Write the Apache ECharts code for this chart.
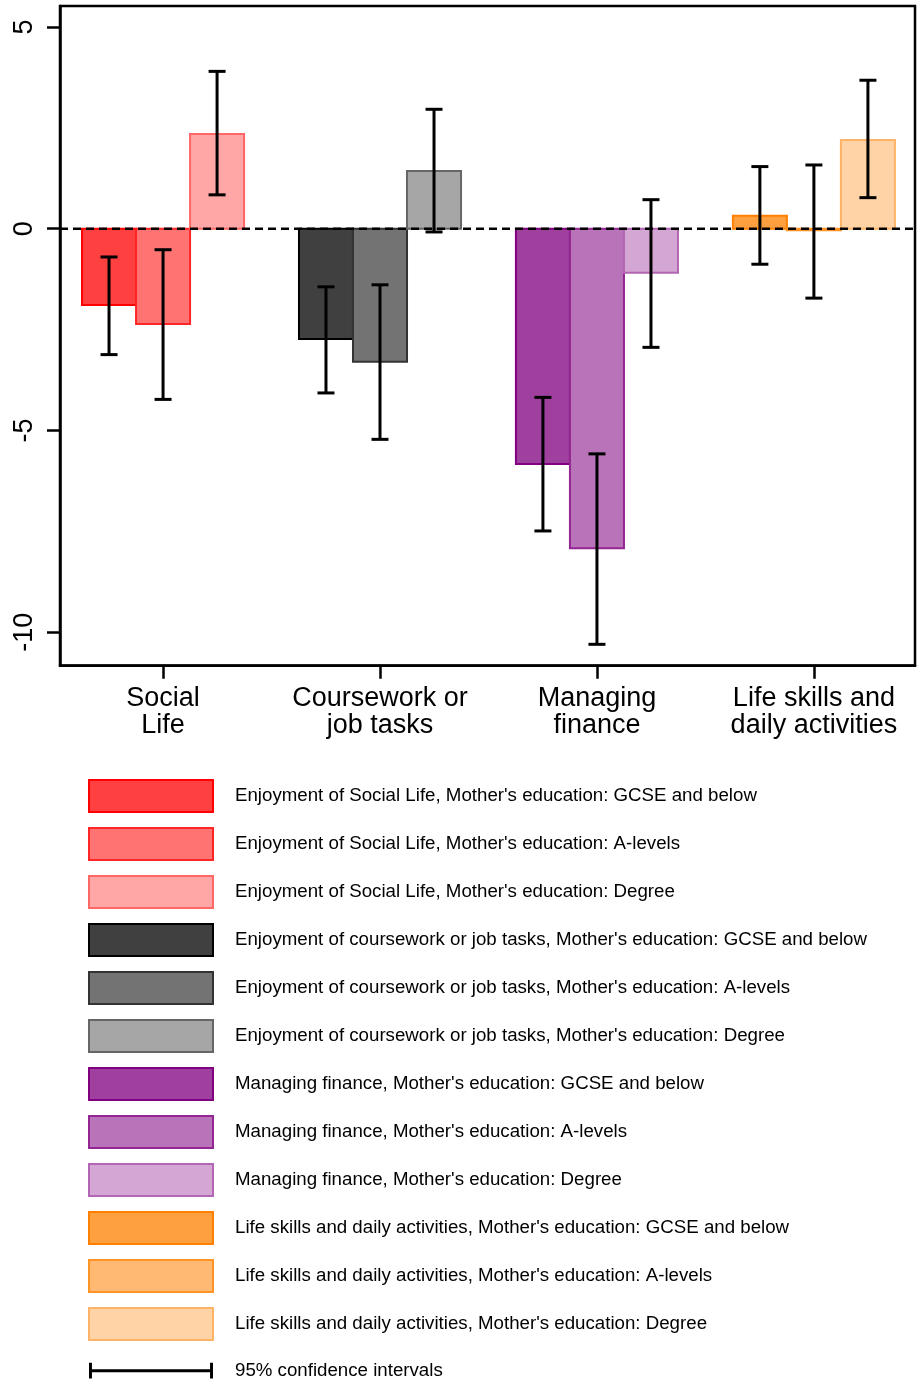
<!DOCTYPE html>
<html>
<head>
<meta charset="utf-8">
<script src="https://cdn.jsdelivr.net/npm/echarts@6/dist/echarts.min.js"></script>
<style>
  html, body { margin: 0; padding: 0; background: #fff; }
  #chart { width: 917px; height: 1386px; }
</style>
</head>
<body>
<div id="chart"></div>
<script>
// ---------- data ----------
const categories = ['Social\nLife', 'Coursework or\njob tasks', 'Managing\nfinance', 'Life skills and\ndaily activities'];
const domainNames = ['Enjoyment of Social Life', 'Enjoyment of coursework or job tasks', 'Managing finance', 'Life skills and daily activities'];
const educationLevels = ['GCSE and below', 'A-levels', 'Degree'];

// estimates by education level (GCSE and below, A-levels, Degree)
const socialLife = [-1.89, -2.36, 2.35];
const coursework = [-2.73, -3.30, 1.43];
const finance    = [-5.83, -7.92, -1.09];
const lifeSkills = [0.32, -0.04, 2.20];

// 95% confidence intervals [low, high]
const socialLifeCI = [[-3.12, -0.70], [-4.23, -0.52], [0.84, 3.90]];
const courseworkCI = [[-4.07, -1.44], [-5.22, -1.39], [-0.08, 2.96]];
const financeCI    = [[-7.49, -4.18], [-10.30, -5.58], [-2.94, 0.72]];
const lifeSkillsCI = [[-0.88, 1.54], [-1.72, 1.58], [0.77, 3.68]];

const yTicks = [-10, -5, 0, 5];
const xTicks = [1, 2, 3, 4];
const referenceValue = 0;
const ciLabel = '95% confidence intervals';

// ---------- styles ----------
const fills = [
  ['#FF4040', '#FF7373', '#FFA6A6'],
  ['#404040', '#737373', '#A6A6A6'],
  ['#9F409F', '#B973B9', '#D3A6D3'],
  ['#FFA040', '#FFB973', '#FFD3A6']
];
const borders = [
  ['#FF0000', '#FF2626', '#FF6666'],
  ['#000000', '#333333', '#666666'],
  ['#800080', '#932693', '#B366B3'],
  ['#FF8000', '#FF9326', '#FFB366']
];
const FONT = 'Liberation Sans, Arial, Helvetica, sans-serif';
const BAR_W = 0.249; // in x-axis units (one category = 1)

const estimates = [socialLife, coursework, finance, lifeSkills];
const cis = [socialLifeCI, courseworkCI, financeCI, lifeSkillsCI];

const series = [];
const legendData = [];
estimates.forEach((vals, d) => {
  vals.forEach((v, l) => {
    const name = domainNames[d] + ", Mother's education: " + educationLevels[l];
    const itemStyle = { color: fills[d][l], borderColor: borders[d][l], borderWidth: 2 };
    series.push({
      type: 'custom',
      name: name,
      z: 2,
      itemStyle: itemStyle,
      data: [[d + 1, v, l]],
      renderItem: function (params, api) {
        const x = api.value(0) + (api.value(2) - 1) * BAR_W;
        const p0 = api.coord([x, 0]);
        const p1 = api.coord([x, api.value(1)]);
        const w = api.size([BAR_W, 0])[0];
        return {
          type: 'rect',
          shape: { x: p0[0] - w / 2, y: Math.min(p0[1], p1[1]), width: w, height: Math.abs(p1[1] - p0[1]) },
          style: api.style()
        };
      }
    });
    legendData.push({ name: name, icon: 'rect', itemStyle: itemStyle });
  });
});

// zero reference line (dashed, spanning the plot)
series.push({
  type: 'custom',
  name: 'reference',
  z: 3,
  silent: true,
  data: [[1, referenceValue]],
  renderItem: function (params, api) {
    const cs = params.coordSys;
    const y = api.coord([1, api.value(1)])[1];
    return {
      type: 'line',
      shape: { x1: cs.x, y1: y, x2: cs.x + cs.width, y2: y },
      style: { stroke: '#000', lineWidth: 2.5, lineDash: [8, 5] }
    };
  }
});

// error bars
const ciData = [];
cis.forEach((arr, d) => arr.forEach((c, l) => ciData.push([d + 1, l, c[0], c[1]])));
series.push({
  type: 'custom',
  name: ciLabel,
  z: 5,
  itemStyle: { color: '#000' },
  data: ciData,
  renderItem: function (params, api) {
    const x = api.value(0) + (api.value(1) - 1) * BAR_W;
    const lo = api.coord([x, api.value(2)]);
    const hi = api.coord([x, api.value(3)]);
    const cap = 8.5;
    const ls = { stroke: '#000', lineWidth: 3 };
    return {
      type: 'group',
      children: [
        { type: 'line', shape: { x1: lo[0], y1: lo[1], x2: hi[0], y2: hi[1] }, style: ls },
        { type: 'line', shape: { x1: lo[0] - cap, y1: lo[1], x2: lo[0] + cap, y2: lo[1] }, style: ls },
        { type: 'line', shape: { x1: hi[0] - cap, y1: hi[1], x2: hi[0] + cap, y2: hi[1] }, style: ls }
      ]
    };
  }
});
const ciIcon = 'path://M0 0L0.01 0L0.01 0.01Z M126 32L125.99 32L125.99 31.99Z ' +
  'M0 8L3 8L3 24L0 24Z M123 8L126 8L126 24L123 24Z M0 14.5L126 14.5L126 17.5L0 17.5Z';
legendData.push({ name: ciLabel, icon: ciIcon, itemStyle: { color: '#000', borderWidth: 0 } });

const chart = echarts.init(document.getElementById('chart'), null, { renderer: 'canvas' });
chart.setOption({
  animation: false,
  backgroundColor: '#fff',
  grid: {
    left: 60, right: 2, top: 6, bottom: 720.3,
    show: true, borderColor: '#000', borderWidth: 2.5, backgroundColor: 'transparent'
  },
  xAxis: {
    type: 'value',
    min: 0.525, max: 4.466,
    axisLine: { show: true, onZero: false, lineStyle: { color: '#000', width: 2.5 } },
    axisTick: { show: true, customValues: xTicks, length: 13, lineStyle: { color: '#000', width: 2.5 } },
    axisLabel: {
      customValues: xTicks,
      formatter: v => categories[Math.round(v) - 1],
      color: '#000', fontFamily: FONT, fontSize: 27, lineHeight: 27, margin: 19
    },
    splitLine: { show: false }
  },
  yAxis: {
    type: 'value',
    min: -10.83, max: 5.52,
    axisLine: { show: true, onZero: false, lineStyle: { color: '#000', width: 2.5 } },
    axisTick: { show: true, customValues: yTicks, length: 13, lineStyle: { color: '#000', width: 2.5 } },
    axisLabel: {
      customValues: yTicks,
      rotate: 90,
      color: '#000', fontFamily: FONT, fontSize: 27, margin: 22
    },
    splitLine: { show: false }
  },
  legend: {
    orient: 'vertical',
    left: 88, top: 779, height: 640,
    padding: 0,
    itemWidth: 124, itemHeight: 32, itemGap: 14,
    selectedMode: false,
    data: legendData,
    textStyle: { color: '#000', fontFamily: FONT, fontSize: 18.7, padding: [0, 0, 0, 17] }
  },
  series: series
});
</script>
</body>
</html>
